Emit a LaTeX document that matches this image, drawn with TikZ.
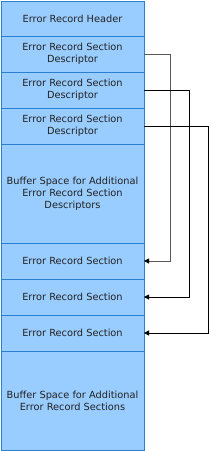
\documentclass[tikz,border=0pt]{standalone}
\usepackage{fontspec}
\setmainfont{DejaVu Sans}
\usetikzlibrary{arrows.meta}
\definecolor{boxfill}{HTML}{99CCFF}
\definecolor{boxline}{HTML}{2A7FCF}
\definecolor{txt}{HTML}{222222}
\begin{document}
\begin{tikzpicture}[x=1pt,y=-1pt,
  blk/.style={draw=boxline,fill=boxfill,line width=1pt,minimum width=143pt,inner sep=0pt,outer sep=0pt,
    text=txt,font=\fontsize{9.8}{12}\selectfont,align=center},
  link/.style={draw=black,line width=0.9pt,-{Triangle[length=5pt,width=5pt,color=black]}}]
\useasboundingbox (0,0) rectangle (209,451);
\node[blk,minimum height=35pt] (h) at (72.5,18.5) {Error Record Header};
\node[blk,minimum height=36pt] (d1) at (72.5,54) {Error Record Section\\Descriptor};
\node[blk,minimum height=36pt] (d2) at (72.5,90) {Error Record Section\\Descriptor};
\node[blk,minimum height=36pt] (d3) at (72.5,126) {Error Record Section\\Descriptor};
\node[blk,minimum height=99pt] (b1) at (72.5,193.5) {Buffer Space for Additional\\Error Record Section\\Descriptors};
\node[blk,minimum height=36pt] (s1) at (72.5,261) {Error Record Section};
\node[blk,minimum height=36pt] (s2) at (72.5,297) {Error Record Section};
\node[blk,minimum height=36pt] (s3) at (72.5,333) {Error Record Section};
\node[blk,minimum height=99pt] (b2) at (72.5,400.5) {Buffer Space for Additional\\Error Record Sections};
\draw[link,draw=black!65] (d1.east) -- ++(26,0) |- (s1.east);
\draw[link] (d2.east) -- ++(45,0) |- (s2.east);
\draw[link] (d3.east) -- ++(64,0) |- (s3.east);
\end{tikzpicture}
\end{document}
